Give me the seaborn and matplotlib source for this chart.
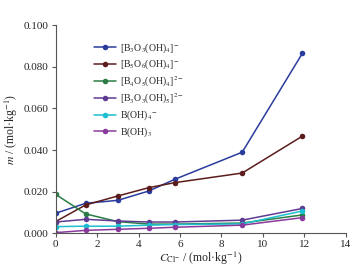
import numpy as np
import pandas as pd
import seaborn as sns
import matplotlib
matplotlib.use("Agg")
import matplotlib.pyplot as plt

# chloride concentration (mol/kg)
c_cl = [0, 1.45, 3.0, 4.5, 5.75, 9.0, 11.9]

# species molalities
b3o3_oh4 = [0.0097, 0.0145, 0.0159, 0.0204, 0.0260, 0.0390, 0.0864]
b5o6_oh4 = [0.0057, 0.0137, 0.0180, 0.0220, 0.0244, 0.0290, 0.0467]
b4o5_oh4 = [0.0188, 0.0094, 0.0057, 0.0045, 0.0045, 0.0050, 0.0089]
b3o3_oh5 = [0.0055, 0.0068, 0.0060, 0.0055, 0.0055, 0.0064, 0.0120]
b_oh4 = [0.0033, 0.0035, 0.0035, 0.0040, 0.0043, 0.0046, 0.0108]
b_oh3 = [0.0004, 0.0015, 0.0020, 0.0025, 0.0030, 0.0040, 0.0076]

labels = [r"[B$_3$O$_3$(OH)$_4$]$^{-}$",
          r"[B$_5$O$_6$(OH)$_4$]$^{-}$",
          r"[B$_4$O$_5$(OH)$_4$]$^{2-}$",
          r"[B$_3$O$_3$(OH)$_5$]$^{2-}$",
          r"B(OH)$_4$$^{-}$",
          r"B(OH)$_3$"]
colors = ["#2a3c9c", "#5c1c1c", "#2a7d45", "#5e3c92", "#1cbfd0", "#8a3a9c"]

series = [b3o3_oh4, b5o6_oh4, b4o5_oh4, b3o3_oh5, b_oh4, b_oh3]
df = pd.concat([pd.DataFrame({"c": c_cl, "m": s, "species": lab})
                for s, lab in zip(series, labels)], ignore_index=True)

sns.set_style("ticks")
plt.rcParams["font.family"] = ["Liberation Serif", "DejaVu Serif"]
plt.rcParams["mathtext.fontset"] = "stix"

fig = plt.figure(figsize=(3.54, 2.67), dpi=100)
ax = fig.add_axes([0.157, 0.1255, 0.82, 0.7805])

sns.lineplot(data=df, x="c", y="m", hue="species", hue_order=labels,
             palette=dict(zip(labels, colors)), marker="o", markersize=4,
             markeredgewidth=0, linewidth=1.1, sort=False, ax=ax)

ax.set_xlim(0, 14)
ax.set_ylim(0, 0.100)
ax.set_xticks(range(0, 15, 2))
ax.set_yticks(np.arange(0, 0.101, 0.02))
ax.yaxis.set_major_formatter(matplotlib.ticker.FormatStrFormatter("%.3f"))
ax.tick_params(labelsize=8, length=3, width=0.8, color="#555555", pad=2)
for sp in ["top", "right"]:
    ax.spines[sp].set_visible(False)
for sp in ["left", "bottom"]:
    ax.spines[sp].set_color("#555555")
    ax.spines[sp].set_linewidth(0.8)

ax.set_xlabel(r"$C_{\mathrm{Cl^{-}}}$ / (mol·kg$^{-1}$)", fontsize=8.5, labelpad=0.5)
ax.set_ylabel(r"$m$ / (mol·kg$^{-1}$)", fontsize=8.5, labelpad=3)

leg = ax.legend(loc="upper left", bbox_to_anchor=(0.12, 0.94), frameon=False,
                fontsize=7, handlelength=2.2, labelspacing=0.3,
                handletextpad=0.4, borderaxespad=0)

fig.savefig("out.png", dpi=100)
